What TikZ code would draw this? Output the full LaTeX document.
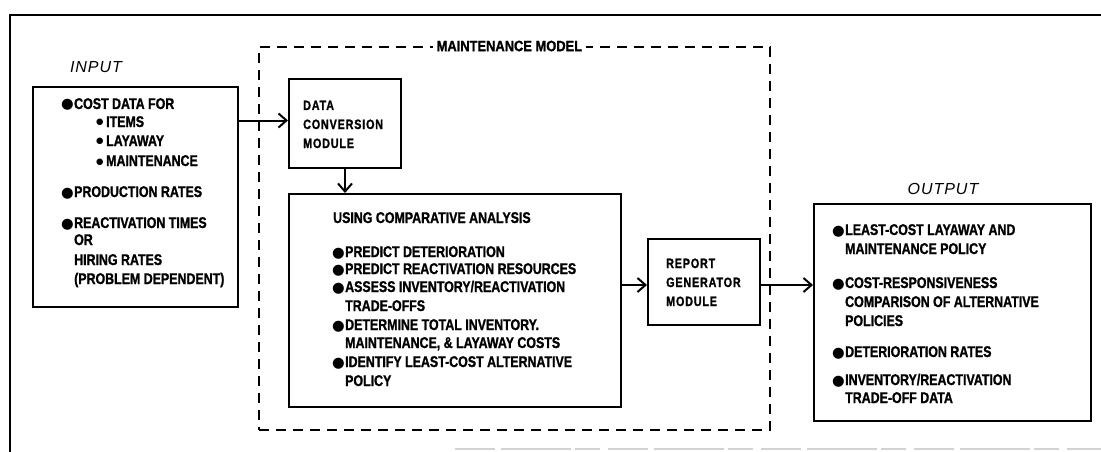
\documentclass[tikz,border=0pt]{standalone}
\usepackage{fontspec}
\setmainfont{Liberation Sans}
\newfontfamily\condf{Liberation Sans}[FakeStretch=0.8, FakeBold=1.2]
\newfontfamily\modf{Liberation Sans}[FakeStretch=0.8, FakeBold=1.2, LetterSpace=6]
\newfontfamily\widef{Liberation Sans}[FakeStretch=0.86, FakeBold=1.2]
\newfontfamily\labf{Liberation Sans}[LetterSpace=6]
\newfontfamily\bulf{DejaVu Sans}
\usetikzlibrary{arrows.meta}
\newcommand\bu{\makebox[13pt][l]{\bulf\fontsize{14.5}{15}\selectfont ●}}
\newcommand\sbu{\makebox[9pt][l]{\kern-1pt\raisebox{2pt}{\bulf\fontsize{8.5}{9}\selectfont ●}}}
\begin{document}
\begin{tikzpicture}[x=1pt,y=-1pt,
  box/.style={draw, line width=2pt, inner sep=0pt, anchor=north west},
  dbox/.style={draw, line width=1.8pt, dash pattern=on 10pt off 7pt, inner sep=0pt, anchor=north west},
  txt/.style={anchor=base west, inner sep=0pt, font=\condf\bfseries\fontsize{15.5}{16}\selectfont},
  mtxt/.style={anchor=base west, inner sep=0pt, font=\modf\bfseries\fontsize{13.5}{15}\selectfont},
  lab/.style={anchor=base, inner sep=0pt, font=\labf\itshape\fontsize{16}{17}\selectfont},
  arr/.style={line width=2pt, -{Straight Barb[length=8pt,width=14pt,line width=2pt]}},
]
\useasboundingbox (0,0) rectangle (1101,452);
% outer frame
\draw[line width=2.2pt] (1101,15) -- (10,15) -- (10,452);
\draw[gray!35, line width=1.4pt, dash pattern=on 40pt off 6pt on 70pt off 4pt on 25pt off 8pt] (455,449) -- (1101,449);

% boxes
\node[box, minimum width=205pt, minimum height=220pt] (inbox) at (32,86) {};
\node[dbox, minimum width=511pt, minimum height=383pt] (mm) at (258,46) {};
\node[box, minimum width=112pt, minimum height=89pt] (dc) at (288,78) {};
\node[box, minimum width=332pt, minimum height=213pt] (an) at (288,193) {};
\node[box, minimum width=112pt, minimum height=86pt] (rg) at (647,238) {};
\node[box, minimum width=277pt, minimum height=217pt] (out) at (813,203) {};

\node[fill=white, inner xsep=4pt, inner ysep=2pt, font=\widef\bfseries\fontsize{15}{16}\selectfont] (mmlab) at ([xshift=-5pt]mm.north) {MAINTENANCE MODEL};

% labels
\node[lab] (inlab) at (96,73) {INPUT};
\node[lab] (outlab) at (943,194) {OUTPUT};

% input text
\node[txt] (i1) at (61,109) {\bu COST DATA FOR};
\node[txt] (i2) at (97,127) {\sbu ITEMS};
\node[txt] (i3) at (97,146) {\sbu LAYAWAY};
\node[txt] (i4) at (97,166) {\sbu MAINTENANCE};
\node[txt] (i5) at (61,197) {\bu PRODUCTION RATES};
\node[txt] (i6) at (61,228) {\bu REACTIVATION TIMES};
\node[txt] (i7) at (74,245) {OR};
\node[txt] (i8) at (74,265) {HIRING RATES};
\node[txt] (i9) at (74,284) {(PROBLEM DEPENDENT)};

% data conversion module
\node[mtxt] (d1) at (303,110) {DATA};
\node[mtxt] (d2) at (303,129) {CONVERSION};
\node[mtxt] (d3) at (303,148) {MODULE};

% analysis
\node[txt] (a0) at (333,223) {USING COMPARATIVE ANALYSIS};
\node[txt] (a1) at (332,257) {\bu PREDICT DETERIORATION};
\node[txt] (a2) at (332,274) {\bu PREDICT REACTIVATION RESOURCES};
\node[txt] (a3) at (332,292) {\bu ASSESS INVENTORY/REACTIVATION};
\node[txt] (a4) at (345,311) {TRADE-OFFS};
\node[txt] (a5) at (332,330) {\bu DETERMINE TOTAL INVENTORY.};
\node[txt] (a6) at (345,348) {MAINTENANCE, \& LAYAWAY COSTS};
\node[txt] (a7) at (332,367) {\bu IDENTIFY LEAST-COST ALTERNATIVE};
\node[txt] (a8) at (345,386) {POLICY};

% report generator
\node[mtxt] (r1) at (666,268) {REPORT};
\node[mtxt] (r2) at (666,287) {GENERATOR};
\node[mtxt] (r3) at (666,306) {MODULE};

% output
\node[txt] (o1) at (832,235) {\bu LEAST-COST LAYAWAY AND};
\node[txt] (o2) at (845,254) {MAINTENANCE POLICY};
\node[txt] (o3) at (832,288) {\bu COST-RESPONSIVENESS};
\node[txt] (o4) at (845,307) {COMPARISON OF ALTERNATIVE};
\node[txt] (o5) at (845,326) {POLICIES};
\node[txt] (o6) at (832,357) {\bu DETERIORATION RATES};
\node[txt] (o7) at (832,385) {\bu INVENTORY/REACTIVATION};
\node[txt] (o8) at (845,403) {TRADE-OFF DATA};

% connectors
\draw[arr] ([yshift=3pt]inbox.east |- dc.west) -- ([yshift=3pt]dc.west);
\draw[arr] (dc.south) -- (dc.south |- an.north);
\draw[arr] ([yshift=-3pt]an.east |- rg.west) -- ([yshift=-3pt]rg.west);
\draw[arr] ([yshift=-3pt]rg.east) -- ([yshift=-3pt]rg.east -| out.west);
\end{tikzpicture}
\end{document}
